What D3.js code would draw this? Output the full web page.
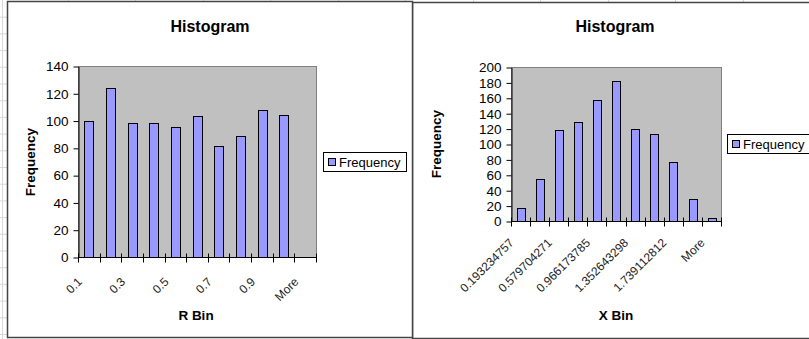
<!DOCTYPE html>
<html>
<head>
<meta charset="utf-8">
<script src="https://cdn.jsdelivr.net/npm/d3@7"></script>
<style>
  body { margin: 0; background: #fff; }
  svg { display: block; font-family: "Liberation Sans", Arial, sans-serif; }
</style>
</head>
<body>
<div id="chart"></div>
<script>
// data
var rBins = ["0.1", "0.2", "0.3", "0.4", "0.5", "0.6", "0.7", "0.8", "0.9", "1", "More"];
var rFreq = [100, 124, 98, 98, 95, 103, 81, 89, 108, 104, 0];
var rTicks = [0, 20, 40, 60, 80, 100, 120, 140];

var xBins = ["0.193234757", "0.386469514", "0.579704271", "0.772939028", "0.966173785",
             "1.159408541", "1.352643298", "1.545878055", "1.739112812", "1.932347569", "More"];
var xFreq = [17, 55, 118, 129, 157, 182, 119, 113, 76, 29, 4];
var xTicks = [0, 20, 40, 60, 80, 100, 120, 140, 160, 180, 200];

var width = 809, height = 339;

var svg = d3.select("#chart").append("svg")
    .attr("width", width)
    .attr("height", height);

// spreadsheet grid behind the charts
var grid = svg.append("g").style("stroke", "#d8d8d8").style("stroke-width", 1);
d3.range(1, 21).forEach(function(k) {
    grid.append("line").attr("x1", 0).attr("x2", 8).attr("y1", k * 16.7 + 0.5).attr("y2", k * 16.7 + 0.5);
});
grid.append("line").attr("x1", 2.5).attr("x2", 2.5).attr("y1", 0).attr("y2", height);
d3.range(1, 12).forEach(function(k) {
    var gx = Math.round(k * 67.5) + 0.5;
    grid.append("line").attr("x1", gx).attr("x2", gx).attr("y1", 0).attr("y2", 2);
});

function drawChart(opt) {
    var g = svg.append("g");

    // chart frame
    g.append("rect")
        .attr("x", opt.frame[0] + 0.5)
        .attr("y", opt.frame[1] + 0.5)
        .attr("width", opt.frame[2])
        .attr("height", opt.frame[3])
        .style("fill", "#fff")
        .style("stroke", "#444")
        .style("stroke-width", 1.5);

    var x = d3.scaleBand()
        .domain(opt.cats)
        .range([opt.plot[0], opt.plot[2]])
        .padding(0);

    var y = d3.scaleLinear()
        .domain([0, opt.yTicks[opt.yTicks.length - 1]])
        .range([opt.plot[3], opt.plot[1]]);

    // plot area
    g.append("rect")
        .attr("x", opt.plot[0] + 0.5)
        .attr("y", opt.plot[1] + 0.5)
        .attr("width", opt.plot[2] - opt.plot[0])
        .attr("height", opt.plot[3] - opt.plot[1])
        .style("fill", "#c0c0c0")
        .style("stroke", "#808080")
        .style("stroke-width", 1);

    // bars
    var bw = x.bandwidth() * 0.4;
    g.selectAll(".bar")
        .data(opt.values)
        .enter().append("rect")
        .attr("class", "bar")
        .attr("x", function(d, i) { return Math.round(x(opt.cats[i]) + (x.bandwidth() - bw) / 2) + 0.5; })
        .attr("y", function(d) { return Math.round(y(d)) + 0.5; })
        .attr("width", Math.round(bw))
        .attr("height", function(d) { return Math.round(y(0)) - Math.round(y(d)); })
        .style("fill", "#9999ff")
        .style("stroke", "#000")
        .style("stroke-width", 1)
        .style("display", function(d) { return d > 0 ? null : "none"; });

    // y axis
    var yAxis = g.append("g")
        .attr("transform", "translate(" + (opt.plot[0] + 0.5) + ",0.5)")
        .call(d3.axisLeft(y).tickValues(opt.yTicks).tickSize(5).tickPadding(5).tickSizeOuter(0));
    yAxis.select(".domain").style("stroke", "#000");
    yAxis.selectAll("line").style("stroke", "#000");
    yAxis.selectAll("text")
        .style("font-size", "13.5px")
        .style("fill", "#000")
        .attr("font-family", null);

    // x axis line + crossing ticks at bin edges
    var base = Math.round(y(0)) + 0.5;
    g.append("line")
        .attr("x1", opt.plot[0]).attr("x2", opt.plot[2] + 1)
        .attr("y1", base).attr("y2", base)
        .style("stroke", "#000");
    var edges = opt.cats.map(function(c) { return x(c); }).concat([x.range()[1]]);
    g.selectAll(".xtick")
        .data(edges)
        .enter().append("line")
        .attr("class", "xtick")
        .attr("x1", function(d) { return Math.round(d) + 0.5; })
        .attr("x2", function(d) { return Math.round(d) + 0.5; })
        .attr("y1", base - 4).attr("y2", base + 5)
        .style("stroke", "#000");

    // category labels, every other bin
    g.selectAll(".xlabel")
        .data(opt.cats.filter(function(c, i) { return i % 2 === 0; }))
        .enter().append("text")
        .attr("class", "xlabel")
        .attr("text-anchor", "end")
        .style("font-size", "12px")
        .style("fill", "#222")
        .attr("transform", function(c) {
            return "translate(" + (x(c) + x.bandwidth() / 2 + opt.labelDx) + "," + (base + opt.labelDy) + ") rotate(-45)";
        })
        .text(function(c) { return c; });

    // titles
    g.append("text")
        .text(opt.title)
        .attr("text-anchor", "middle")
        .style("font-size", "16px")
        .style("font-weight", "bold")
        .attr("x", opt.titlePos[0]).attr("y", opt.titlePos[1]);

    g.append("text")
        .text(opt.xTitle)
        .attr("text-anchor", "middle")
        .style("font-size", "13.5px")
        .style("font-weight", "bold")
        .attr("x", opt.xTitlePos[0]).attr("y", opt.xTitlePos[1]);

    g.append("text")
        .text("Frequency")
        .attr("text-anchor", "middle")
        .style("font-size", "13.5px")
        .style("font-weight", "bold")
        .attr("transform", "translate(" + opt.yTitlePos[0] + "," + opt.yTitlePos[1] + ") rotate(-90)");

    // legend
    var lg = g.append("g").attr("transform", "translate(" + opt.legend[0] + "," + opt.legend[1] + ")");
    lg.append("rect")
        .attr("x", 0.5).attr("y", 0.5)
        .attr("width", 83).attr("height", 19)
        .style("fill", "#fff")
        .style("stroke", "#000");
    lg.append("rect")
        .attr("x", 5.5).attr("y", 6.5)
        .attr("width", 7).attr("height", 7)
        .style("fill", "#9999ff")
        .style("stroke", "#000");
    lg.append("text")
        .text("Frequency")
        .attr("x", 16).attr("y", 15)
        .style("font-size", "13px");
}

drawChart({
    frame: [412, 2, 420, 336],
    plot: [511, 67, 721, 221],
    cats: xBins,
    values: xFreq,
    yTicks: xTicks,
    labelDx: -6,
    labelDy: 22,
    title: "Histogram",
    titlePos: [615, 32],
    xTitle: "X Bin",
    xTitlePos: [616, 320],
    yTitlePos: [441, 144],
    legend: [727, 134]
});

drawChart({
    frame: [7, 1, 405, 336],
    plot: [78, 66, 316, 257],
    cats: rBins,
    values: rFreq,
    yTicks: rTicks,
    labelDx: -6,
    labelDy: 25,
    title: "Histogram",
    titlePos: [210, 32],
    xTitle: "R Bin",
    xTitlePos: [196, 320],
    yTitlePos: [35, 162],
    legend: [323, 152]
});
</script>
</body>
</html>
